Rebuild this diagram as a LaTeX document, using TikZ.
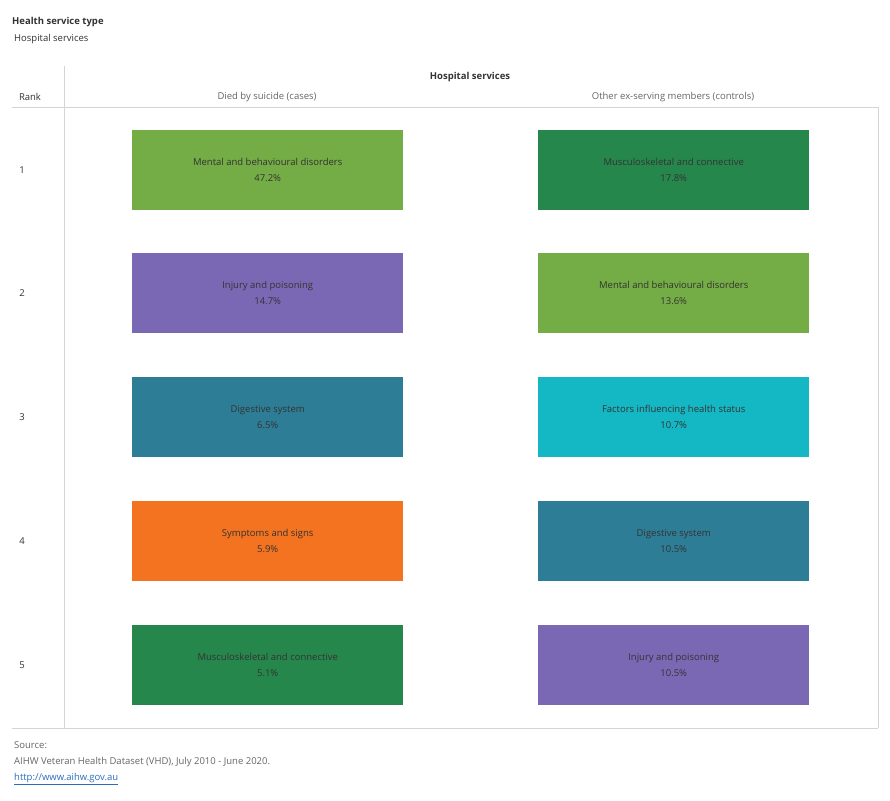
\documentclass[tikz,border=0pt]{standalone}
\usepackage{fontspec}
\setmainfont{Open Sans}
\definecolor{lg}{HTML}{74AC45}
\definecolor{dg}{HTML}{26874C}
\definecolor{pu}{HTML}{7B68B4}
\definecolor{te}{HTML}{2E7D96}
\definecolor{cy}{HTML}{14B8C4}
\definecolor{orr}{HTML}{F37321}
\definecolor{tx}{HTML}{333333}
\definecolor{gr}{HTML}{666666}
\definecolor{ln}{HTML}{D4D4D4}
\definecolor{lk}{HTML}{2A6EBB}
\begin{document}
\begin{tikzpicture}[x=1pt,y=-1pt,
  bx/.style={minimum width=271pt,minimum height=80pt,anchor=north west,inner sep=0pt,align=center,text=tx,font=\fontsize{9.5}{16}\selectfont},
  lb/.style={text=tx,font=\fontsize{9.5}{12}\selectfont,inner sep=0pt},
  gl/.style={text=gr,font=\fontsize{9.5}{12}\selectfont,inner sep=0pt},
  rule/.style={draw=ln,line width=0.8pt}]
\useasboundingbox (0,0) rectangle (890,800);
\fill[white] (0,0) rectangle (890,800);
\node[lb,anchor=west,font=\fontsize{9.5}{12}\selectfont\bfseries] (t1) at (12,22) {Health service type};
\node[lb,anchor=west] (t2) at (14,39) {Hospital services};
\coordinate (a) at (64,66); \coordinate (b) at (64,728);
\draw[rule] (a) -- (b);
\draw[rule] (12,107) -- (878,107);
\draw[rule] (12,728) -- (878,728);
\draw[rule] (878,107) -- (878,728);
\node[lb,font=\fontsize{9.5}{12}\selectfont\bfseries] (h) at (470,77) {Hospital services};
\node[lb] (rk) at (30,97) {Rank};
\node[gl] (c1) at (267,97) {Died by suicide (cases)};
\node[gl] (c2) at (673,97) {Other ex-serving members (controls)};
\foreach \rr/\yy/\colL/\txtL/\colR/\txtR [count=\i] in {
 1/130/lg/{Mental and behavioural disorders\\47.2\%}/dg/{Musculoskeletal and connective\\17.8\%},
 2/253/pu/{Injury and poisoning\\14.7\%}/lg/{Mental and behavioural disorders\\13.6\%},
 3/377/te/{Digestive system\\6.5\%}/cy/{Factors influencing health status\\10.7\%},
 4/501/orr/{Symptoms and signs\\5.9\%}/te/{Digestive system\\10.5\%},
 5/625/dg/{Musculoskeletal and connective\\5.1\%}/pu/{Injury and poisoning\\10.5\%}}{
 \node[lb] (r\i) at (22,\yy+40) {\rr};
 \node[bx,fill=\colL] (L\i) at (132,\yy) {\txtL};
 \node[bx,fill=\colR] (R\i) at (538,\yy) {\txtR};
}
\node[gl,anchor=west] (s1) at (14,745) {Source:};
\node[gl,anchor=west] (s2) at (14,762) {AIHW Veteran Health Dataset (VHD), July 2010 - June 2020.};
\node[gl,anchor=west,text=lk] (s3) at (14,779) {\underline{http://www.aihw.gov.au}};
\end{tikzpicture}
\end{document}
